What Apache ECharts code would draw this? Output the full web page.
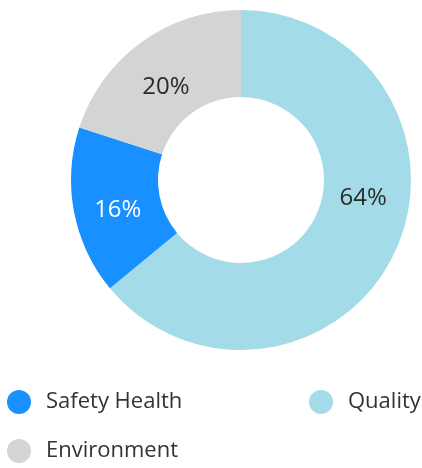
<!DOCTYPE html>
<html><head><meta charset="utf-8">
<script src="https://cdn.jsdelivr.net/npm/echarts@6/dist/echarts.min.js"></script>
<style>html,body{margin:0;padding:0;background:#fff}#c{width:422px;height:468px}</style>
</head><body><div id="c"></div>
<script>
const categories = ['Quality', 'Safety Health', 'Environment'];
const values = [64, 16, 20];
const colors = ['#a3dbe8', '#1890ff', '#d3d4d6'];
const labelColors = ['#2b2b2b', '#ffffff', '#2b2b2b'];
const legendOrder = ['Safety Health', 'Quality', 'Environment'];

const nudges = [[5, -37], [4, 6], [1, 12]];
const font = '"Open Sans", "Noto Sans", sans-serif';
const chart = echarts.init(document.getElementById('c'), null, {renderer: 'canvas'});
const legendPos = [{left: 7, top: 390}, {left: 309, top: 390}, {left: 7, top: 439}];
chart.setOption({
  animation: false,
  color: colors,
  legend: legendOrder.map((name, i) => ({
    data: [name], icon: 'circle', itemWidth: 24, itemHeight: 24,
    left: legendPos[i].left, top: legendPos[i].top, padding: 0,
    selectedMode: false,
    textStyle: {fontSize: 22, color: '#333', fontFamily: font, padding: [5, 0, 0, 10]}
  })),
  series: [{
    type: 'pie',
    center: [241, 180],
    radius: [83, 170],
    startAngle: 90,
    clockwise: true,
    avoidLabelOverlap: false,
    label: {
      show: true, position: 'inside', formatter: '{c}%',
      fontSize: 24, fontFamily: font
    },
    labelLine: {show: false},
    emphasis: {disabled: true},
    labelLayout: function (p) {
      const n = nudges[p.dataIndex];
      return {dx: n[0], dy: n[1]};
    },
    data: categories.map((name, i) => ({
      name: name, value: values[i],
      itemStyle: {color: colors[i]},
      label: {color: labelColors[i]}
    }))
  }]
});
</script></body></html>
